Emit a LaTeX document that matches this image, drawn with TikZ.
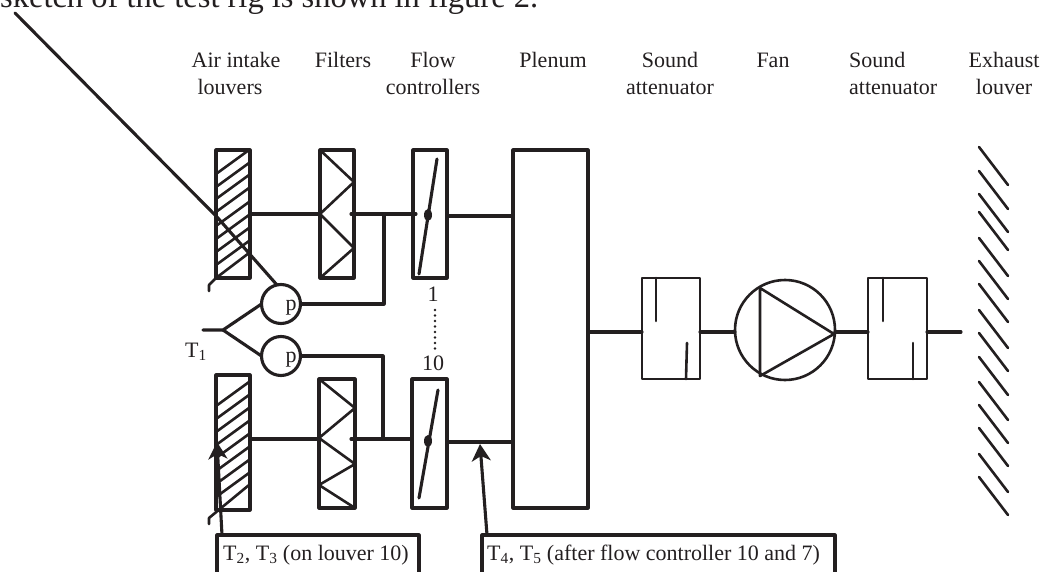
\documentclass[tikz,border=0pt]{standalone}
\usepackage{fontspec}
\setmainfont{Liberation Serif}
\usetikzlibrary{arrows.meta}
\definecolor{ink}{HTML}{231F20}
\tikzset{
  x=1pt,y=-1pt,
  ln/.style={draw=ink,line width=3.1pt,line cap=round,line join=round},
  thin ln/.style={draw=ink,line width=2.6pt,line cap=round,line join=round},
  box/.style={ln,minimum width=0pt,minimum height=0pt,inner sep=0pt,outer sep=0pt},
  thin box/.style={box,thin ln},
  lab/.style={text=ink,font=\fontsize{22}{27}\selectfont,align=center,inner sep=0pt},
  txt/.style={text=ink,font=\fontsize{22}{27}\selectfont,inner sep=0pt},
  pump/.style={ln,circle,fill=white,minimum size=39pt,inner sep=0pt,outer sep=0pt},
  tag/.style={ln,inner sep=0pt,outer sep=0pt,anchor=north west,minimum height=42pt},
  arr/.style={ln,-{Stealth[length=17pt,width=19pt,inset=5pt]}}
}
\newcommand{\bx}[5]{\node[box,minimum width=#4pt,minimum height=#5pt] (#1) at (#2+#4/2,#3+#5/2) {};}
\newcommand{\tbx}[5]{\node[thin box,minimum width=#4pt,minimum height=#5pt] (#1) at (#2+#4/2,#3+#5/2) {};}
\begin{document}
\begin{tikzpicture}
\useasboundingbox (0,0) rectangle (1040,572);
\clip (0,0) rectangle (1040,572);
\node[text=ink,font=\fontsize{32.5}{36}\selectfont,anchor=base west,inner sep=0pt] (head) at (0,8) {sketch of the test rig is shown in figure 2.};
% labels
\node[lab,anchor=base] (l1) at (236,68) {Air intake};
\node[lab,anchor=base] (l1b) at (230,95) {louvers};
\node[lab,anchor=base] (l2) at (343,68) {Filters};
\node[lab,anchor=base] (l3) at (433,68) {Flow};
\node[lab,anchor=base] (l3b) at (433,95) {controllers};
\node[lab,anchor=base] (l4) at (553,68) {Plenum};
\node[lab,anchor=base] (l5) at (670,68) {Sound};
\node[lab,anchor=base] (l5b) at (670,95) {attenuator};
\node[lab,anchor=base] (l6) at (773,68) {Fan};
\node[lab,anchor=base west] (l7) at (849,68) {Sound};
\node[lab,anchor=base west] (l7b) at (849,95) {attenuator};
\node[lab,anchor=base] (l8) at (1004,68) {Exhaust};
\node[lab,anchor=base] (l8b) at (1004,95) {louver};
% boxes
\bx{lvA}{216}{150}{34}{128}
\bx{lvB}{216}{375}{34}{135}
\bx{fiA}{320}{150}{34}{128}
\bx{fiB}{319}{379}{36}{129}
\bx{fcA}{413}{150}{34}{128}
\bx{fcB}{412}{379}{35}{129}
\bx{ple}{513}{150}{75}{358}
\tbx{saA}{642}{278}{58}{101}
\tbx{saB}{868}{278}{59}{101}
\node[pump,thin ln,minimum size=100pt] (fan) at (785,330) {};
% louver hatch
\foreach \y in {150,163,175,188,202,215,228,241}{\draw[thin ln] (216,\y+24) -- (249,\y);}
\draw[thin ln] (209,291) -- (209,285) -- (216,278) -- (249,253);
\foreach \y in {382,395,408,421,434,447,460,473}{\draw[thin ln] (216,\y+24) -- (249,\y);}
\draw[thin ln] (209,524) -- (209,518) -- (249,485);
% filters
\draw[thin ln] (fiA.north west) -- (354,182) -- (320,214) -- (354,248) -- (320,278);
\draw[thin ln] (fiB.north west) -- (355,408) -- (319,438) -- (355,464) -- (319,485) -- (355,508);
% flow controllers
\draw[ln] (437,159) -- (419,274);
\draw[ln] (438,390) -- (419,498);
\fill[ink] (428,215) ellipse (4pt and 6pt);
\fill[ink] (428,441) ellipse (4pt and 6pt);
% long line, pumps
\coordinate (far) at (15,13);
\coordinate (bend) at (217,217);
\node[pump] (pA) at (281,304) {};
\draw[ln] (far) -- (bend) -- (pA.102);
\node[pump] (pB) at (281,356) {};
\node[txt] (pAt) at (291,308) {p};
\node[txt] (pBt) at (291,360) {p};
% connectors
\coordinate (jA) at (384,214);
\coordinate (jB) at (383,439);
\coordinate (fiAr) at (351,214);
\coordinate (fiBr) at (351,439);
\coordinate (fcAl) at (416,214);
\coordinate (fcBl) at (410,439);
\coordinate (axis) at (0,332);
\draw[ln] (lvA.east |- jA) -- (fiA.west |- jA);
\draw[ln] (lvB.east |- jB) -- (fiB.west |- jB);
\draw[ln] (fiAr) -- (fcAl);
\draw[ln] (fiBr) -- (fcBl);
\draw[ln] (pA.east) -- (jA |- pA) -- (jA);
\draw[ln] (pB.east) -- (jB |- pB) -- (jB);
\draw[ln] (fcA.east |- 0,216) -- (ple.west |- 0,216);
\draw[ln] (fcB.east |- 0,442) -- (ple.west |- 0,442);
\draw[ln] (ple.east |- axis) -- (saA.west |- axis);
\draw[ln] (saA.east |- axis) -- (fan.west |- axis);
\draw[ln] (fan.east |- axis) -- (saB.west |- axis);
\coordinate (outEnd) at (961,332);
\draw[ln] (saB.east |- axis) -- (outEnd);
% T1 fork
\coordinate (tf) at (223,330);
\draw[ln] (203,330) -- (tf) -- (pA.west);
\draw[ln] (tf) -- (pB.west);
\node[txt,anchor=base west] (t1) at (185,357) {T\textsubscript{1}};
% attenuators, fan
\draw[thin ln] (656,278) -- (656,321);
\draw[thin ln] (687,343) -- (686,379);
\draw[thin ln] (883,278) -- (883,321);
\draw[thin ln] (913,343) -- (913,379);
\draw[thin ln] (760,288) -- (760,376) -- (834,334) -- cycle;
% numbering
\node[lab] (n1) at (433,294) {1};
\node[lab] (n10) at (433,363) {10};
\draw[ink,line width=2.6pt,line cap=round,dash pattern=on 0pt off 5.5pt] (435,310) -- (435,349);
% exhaust
\foreach \y in {147,171,194,212,238,261,284,310,333,357,382,405,428,454,477}
  {\draw[thin ln] (979,\y) -- (1008,\y+38);}
% tags
\node[tag,minimum width=202pt] (tA) at (217,535) {};
\node[txt,anchor=base west] (tAt) at (223,560) {T\textsubscript{2}, T\textsubscript{3} (on louver 10)};
\node[tag,minimum width=353pt] (tB) at (482,535) {};
\node[txt,anchor=base west] (tBt) at (487,560) {T\textsubscript{4}, T\textsubscript{5} (after flow controller 10 and 7)};
\coordinate (aA) at (217,442);
\coordinate (aB) at (480,444);
\draw[arr] (222,535) -- (aA);
\draw[arr] (487,535) -- (aB);
\end{tikzpicture}
\end{document}
